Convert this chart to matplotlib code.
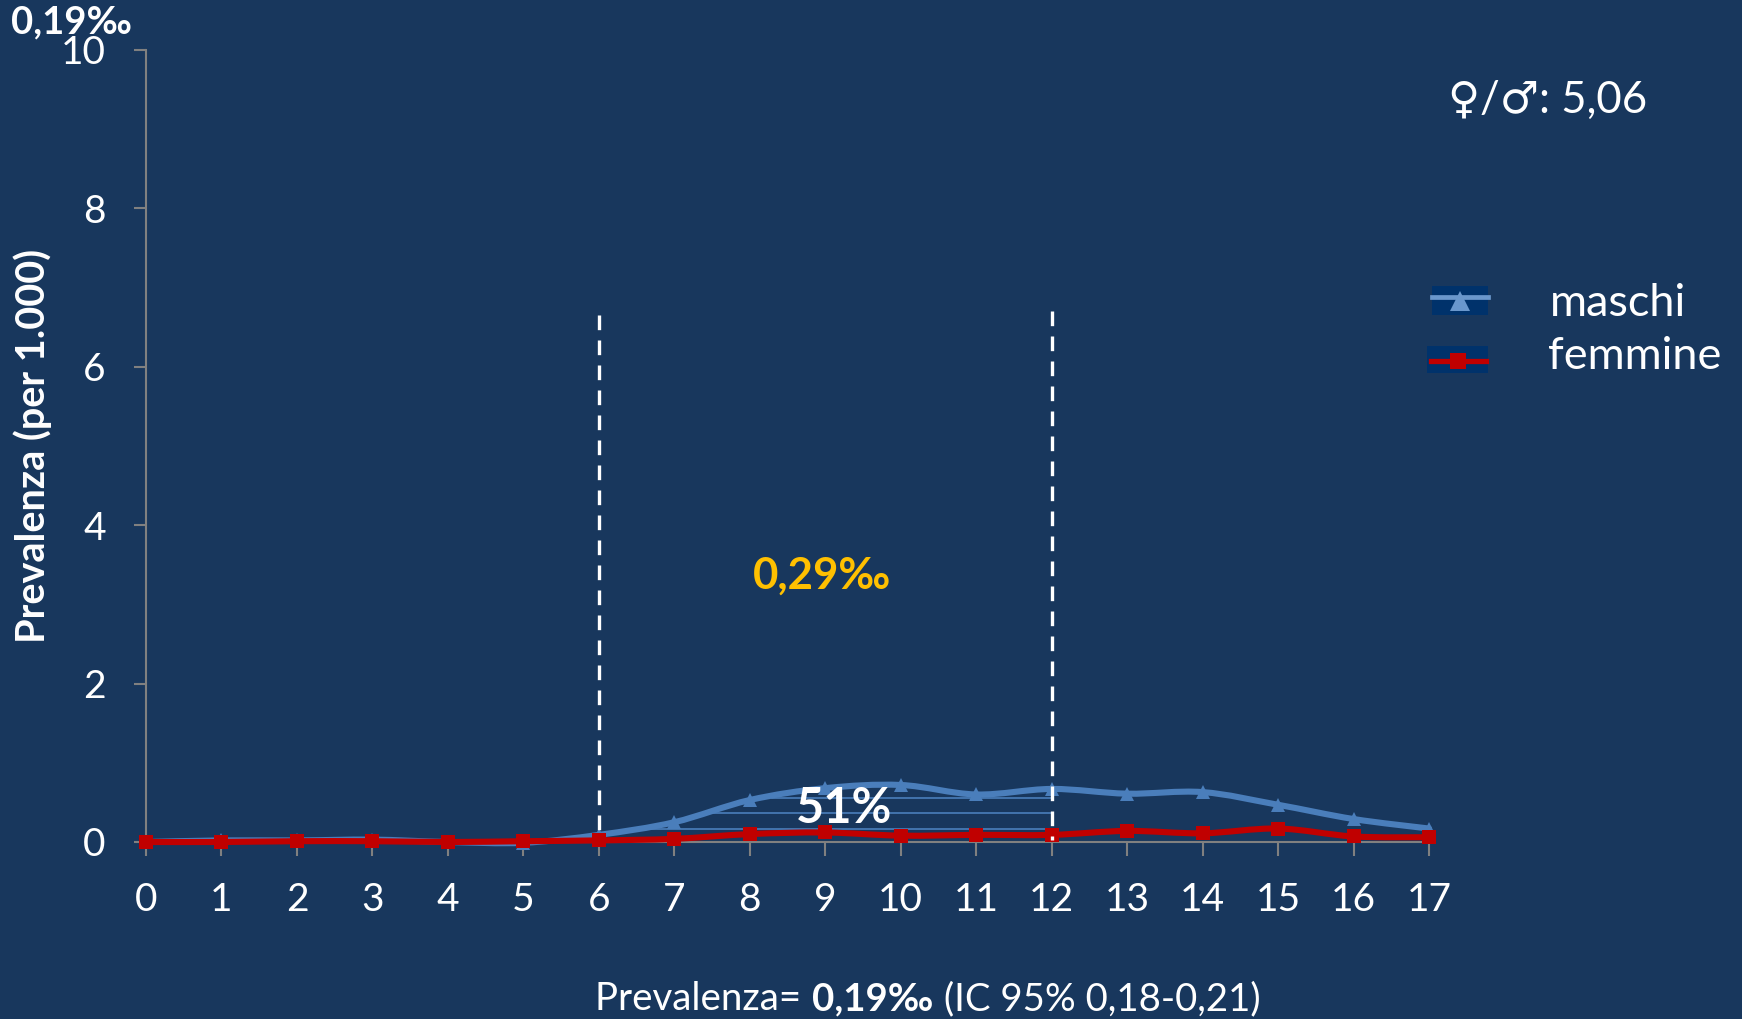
import matplotlib
matplotlib.use("Agg")
import matplotlib.pyplot as plt
from matplotlib.lines import Line2D
from matplotlib.patches import PathPatch, Rectangle
from matplotlib.path import Path

plt.rcParams['font.family'] = ['Lato', 'DejaVu Sans']

W, H = 1742, 1019
BG = '#18375D'
GREY = '#808080'
BLUE = '#4A7EBB'
RED = '#C00000'
SWATCH = '#00326B'
AMBER = '#FFC000'

# prevalenza per 1.000, per anno di eta'
eta = list(range(18))
maschi = [0.00, 0.02, 0.02, 0.03, 0.00, -0.01, 0.09, 0.25, 0.53, 0.68,
          0.72, 0.60, 0.67, 0.61, 0.63, 0.47, 0.29, 0.17]
femmine = [0.00, 0.00, 0.01, 0.01, 0.00, 0.01, 0.02, 0.04, 0.10, 0.12,
           0.08, 0.09, 0.09, 0.14, 0.11, 0.17, 0.07, 0.06]

# riempimento a righe sotto la curva dei maschi
righe_y = [0.165, 0.36, 0.55]
righe_x0 = [6.63, 7.5, 8.29]
righe_x1 = 12

# fascia 6-11 anni
fascia_x = [6, 12]
fascia_top = [6.65, 6.71]

yticks = [0, 2, 4, 6, 8, 10]


def smooth_path(x, y):
    # curva di Bezier tipo "linea smussata" di Excel
    verts = [(x[0], y[0])]
    codes = [Path.MOVETO]
    n = len(x)
    for i in range(n - 1):
        x_prev, y_prev = (x[i - 1], y[i - 1]) if i > 0 else (x[i], y[i])
        x_next, y_next = (x[i + 2], y[i + 2]) if i < n - 2 else (x[i + 1], y[i + 1])
        c1 = (x[i] + (x[i + 1] - x_prev) / 6, y[i] + (y[i + 1] - y_prev) / 6)
        c2 = (x[i + 1] - (x_next - x[i]) / 6, y[i + 1] - (y_next - y[i]) / 6)
        verts += [c1, c2, (x[i + 1], y[i + 1])]
        codes += [Path.CURVE4, Path.CURVE4, Path.CURVE4]
    return Path(verts, codes)


def px(x, y):
    # da pixel dell'immagine a coordinate figura
    return x / W, 1 - y / H


fig = plt.figure(figsize=(W / 100, H / 100), dpi=100, facecolor=BG)
ax = fig.add_axes([146 / W, 1 - 842 / H, (1429 - 146) / W, (842 - 50) / H], facecolor=BG)

ax.set_xlim(0, 17)
ax.set_ylim(0, 10)
for side in ('top', 'right'):
    ax.spines[side].set_visible(False)
for side in ('left', 'bottom'):
    ax.spines[side].set_color(GREY)
    ax.spines[side].set_linewidth(1.5)

ax.set_xticks(eta)
ax.set_yticks(yticks)
ax.tick_params(axis='x', colors=GREY, labelcolor='white', labelsize=28, length=10, width=1.5, pad=19)
ax.tick_params(axis='y', colors=GREY, labelcolor='white', labelsize=28, length=9, width=1.5, pad=20)

for y0, x0 in zip(righe_y, righe_x0):
    ax.plot([x0, righe_x1], [y0, y0], color=BLUE, lw=1.2, zorder=2)

ax.add_patch(PathPatch(smooth_path(eta, maschi), fc='none', ec=BLUE, lw=4.4,
                       capstyle='round', clip_on=False, zorder=3))
ax.plot(eta, maschi, ls='none', marker='^', ms=10.5, color=BLUE, mew=0, clip_on=False, zorder=3)
ax.add_patch(PathPatch(smooth_path(eta, femmine), fc='none', ec=RED, lw=4.4,
                       capstyle='round', clip_on=False, zorder=4))
ax.plot(eta, femmine, ls='none', marker='s', ms=10.5, color=RED, mew=0, clip_on=False, zorder=4)

# tratteggio dall'alto verso il basso, cosi' il primo trattino parte dalla cima
for xv, top in zip(fascia_x, fascia_top):
    ax.plot([xv, xv], [top, 0.03], color='white', lw=2.4, dashes=(4.4, 3.1),
            dash_capstyle='butt', zorder=5)

ax.text(8.96, 3.36, '0,29‰', color=AMBER, fontsize=31.5, fontweight='bold',
        ha='center', va='center', zorder=6)
ax.text(9.25, 0.42, '51%', color='white', fontsize=35, fontweight='bold',
        ha='center', va='center', zorder=6)

fig.text(*px(33, 446), 'Prevalenza (per 1.000)', color='white', fontsize=28.5, fontweight='bold',
         rotation=90, ha='center', va='center')
fig.text(*px(11, 33), '0,19‰', color='white', fontsize=27.5, fontweight='bold', ha='left', va='baseline')
fig.text(*px(1448, 113), '♀/♂: 5,06', color='white', fontsize=31.5, ha='left', va='baseline')

# legenda disegnata a mano: i campioni hanno uno sfondo proprio
fig.add_artist(Rectangle(px(1432, 315), 56 / W, 29 / H, transform=fig.transFigure, fc=SWATCH, ec='none'))
fig.add_artist(Rectangle(px(1427, 373), 61 / W, 27 / H, transform=fig.transFigure, fc=SWATCH, ec='none'))
fig.add_artist(Line2D([1432 / W, 1488 / W], [1 - 297 / H] * 2, color='#6A97CC', lw=3.4))
fig.add_artist(Line2D([1460 / W], [1 - 301 / H], marker='^', ms=14, color='#6A97CC', mew=0, ls='none'))
fig.add_artist(Line2D([1431 / W, 1486 / W], [1 - 361 / H] * 2, color=RED, lw=3.8))
fig.add_artist(Line2D([1458 / W], [1 - 361 / H], marker='s', ms=12, color=RED, mew=0, ls='none'))
fig.text(*px(1550, 316), 'maschi', color='white', fontsize=32.5, ha='left', va='baseline')
fig.text(*px(1548, 369), 'femmine', color='white', fontsize=32.5, ha='left', va='baseline')

# riga in basso: tre pezzi, il valore in grassetto
fig.canvas.draw()
renderer = fig.canvas.get_renderer()
cursor = 595
for chunk, weight in (('Prevalenza= ', 'normal'), ('0,19‰', 'bold'), (' (IC 95% 0,18-0,21)', 'normal')):
    t = fig.text(*px(cursor, 1010), chunk.replace(' ', '\u00a0'), color='white', fontsize=27.6,
                 fontweight=weight, ha='left', va='baseline')
    cursor = t.get_window_extent(renderer).x1 + 1

fig.savefig('out.png', dpi=100, facecolor=BG)
